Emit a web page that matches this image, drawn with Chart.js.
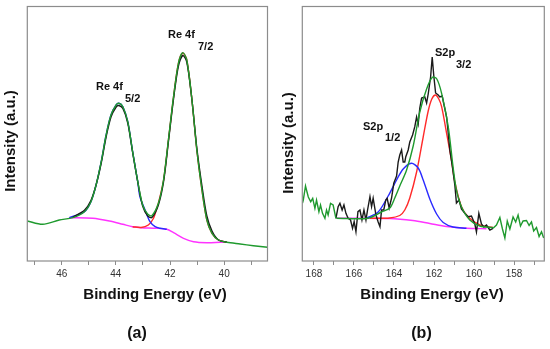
<!DOCTYPE html>
<html>
<head>
<meta charset="utf-8">
<script src="https://cdn.jsdelivr.net/npm/chart.js@4.4.1/dist/chart.umd.min.js"></script>
<style>
html,body{margin:0;padding:0;background:#fff;}
#wrap{position:relative;width:550px;height:349px;overflow:hidden;}
canvas{position:absolute;top:0;}
</style>
</head>
<body>
<div id="wrap">
<canvas id="ca" width="275" height="349" style="left:0px"></canvas>
<canvas id="cb" width="275" height="349" style="left:275px"></canvas>
</div>
<script>
// ---------- Panel (a): Re 4f ----------
const aTicks = [47, 46, 45, 44, 43, 42, 41, 40, 39];
const aLabels = [46, 44, 42, 40];
const aEnvelope = [[47.27,40],[46.70,36.7],[46.09,41],[45.59,43.3],[45.16,49.3],[44.92,59.3],[44.73,76],[44.54,99.3],[44.36,126],[44.18,146],[43.99,156],[43.89,157.7],[43.74,154.3],[43.56,139.3],[43.38,109.3],[43.19,79.3],[43.01,56],[42.82,46.7],[42.67,45.3],[42.43,57.7],[42.24,81],[42.06,121],[41.87,164.3],[41.69,197.7],[41.53,208.3],[41.38,201],[41.19,161],[41.01,111],[40.82,71],[40.64,41],[40.45,27.7],[40.21,21],[39.90,18.7],[39.41,17],[38.92,15.3],[38.40,13.7]];
const aData = [[45.59,43.8],[45.16,50.8],[44.92,60.5],[44.73,76],[44.54,98],[44.36,124],[44.18,144],[43.99,154],[43.89,155.5],[43.74,152.5],[43.56,138],[43.38,108.5],[43.19,79],[43.01,55],[42.82,45],[42.67,43.5],[42.43,56],[42.24,79],[42.06,119],[41.87,162],[41.69,195],[41.53,205.5],[41.38,199],[41.19,161],[41.01,113],[40.82,75],[40.64,45],[40.45,30],[40.21,21],[39.90,18.7]];
const aPeak72 = [[43.38,34.3],[43.07,33.5],[42.80,36],[42.61,42.7],[42.49,52.7],[42.43,57.7],[42.24,80.5],[42.06,120.5],[41.87,164],[41.69,197.5],[41.53,208],[41.38,201],[41.19,161],[41.01,111],[40.82,71],[40.64,41],[40.45,27.7],[40.21,21],[39.90,18.7]];
const aPeak52 = [[45.72,43.3],[45.16,49.3],[44.92,59.3],[44.73,76],[44.54,99.3],[44.36,126],[44.18,146],[43.99,156],[43.89,157.7],[43.74,154.3],[43.56,139.3],[43.38,109.3],[43.19,79],[43.11,64.3],[42.92,51],[42.74,39.3],[42.55,34.3],[42.37,32.7],[42.12,31.7]];
const aBackground = [[45.72,43.3],[44.85,42.7],[44.24,40],[43.74,36.7],[43.38,34.3],[43.07,33.3],[42.51,32.7],[42.12,31.7],[41.87,28.3],[41.50,22.7],[41.13,19.3],[40.64,18.3],[40.15,18.7],[40.03,18.7]];

// ---------- Panel (b): S 2p ----------
const bTicks = [168, 167, 166, 165, 164, 163, 162, 161, 160, 159, 158, 157];
const bLabels = [168, 166, 164, 162, 160, 158];
const bRawLeft = [[168.57,58],[168.53,61],[168.42,75],[168.37,71],[168.28,64],[168.16,59.3],[168.06,62.7],[167.95,52.7],[167.87,61],[167.75,49.3],[167.67,56],[167.57,47.7],[167.45,42.7],[167.37,51],[167.29,46],[167.17,57.7],[167.04,56],[166.90,42.7]];
const bRawRight = [[159.05,32.7],[158.88,36],[158.71,43.5],[158.58,32],[158.46,23],[158.34,40],[158.21,32],[158.05,44],[157.92,39],[157.80,46],[157.68,35],[157.55,40],[157.38,40.5],[157.25,35.5],[157.13,39],[157.02,30],[156.88,33.5],[156.75,24.5],[156.63,29.3],[156.52,23]];
const bData = [[166.90,42.7],[166.79,54.3],[166.70,57.7],[166.59,51],[166.50,56],[166.40,47.7],[166.29,42.7],[166.17,41],[166.07,32.7],[165.99,39.3],[165.90,29.3],[165.80,49.3],[165.70,51],[165.60,41],[165.50,51],[165.40,41],[165.32,51],[165.20,64.3],[165.12,54.3],[165.04,62.7],[164.90,46],[164.79,39],[164.70,34.3],[164.62,51],[164.51,51],[164.41,61],[164.34,62.7],[164.24,53],[164.12,63],[164.01,77.7],[163.87,85],[163.79,99],[163.71,106],[163.62,111],[163.54,99],[163.46,99],[163.41,104.3],[163.29,111],[163.21,119],[163.07,126],[162.96,134.3],[162.87,144],[162.79,137],[162.71,153],[162.62,163],[162.46,164],[162.37,158],[162.29,167],[162.17,184],[162.09,204],[162.01,185],[161.92,168],[161.79,166],[161.71,164],[161.59,165],[161.51,157],[161.37,144],[161.29,128],[161.21,111],[161.08,94],[160.96,76],[160.88,58],[160.75,61],[160.63,52],[160.46,47.7],[160.30,44.3],[160.13,45],[159.96,37],[159.88,29],[159.76,47.7],[159.63,37],[159.51,34],[159.38,36],[159.21,31],[159.05,32.7]];
const bEnvelope = [[166.87,42.7],[165.29,42.7],[164.62,49],[164.21,53],[163.96,63],[163.71,75],[163.37,91],[163.04,115],[162.71,149],[162.37,172],[162.08,183.7],[161.86,182],[161.62,167.7],[161.29,134.3],[161.05,94.3],[160.88,71],[160.63,54.3],[160.21,41],[159.71,35],[159.05,33.3]];
const bPeak32 = [[165.20,42.7],[164.21,43],[163.71,45.5],[163.46,51],[163.21,63],[162.87,89],[162.54,124],[162.29,150],[162.11,162],[161.93,166],[161.76,162],[161.62,154.3],[161.37,127.7],[161.13,101],[160.96,79],[160.63,54.3],[160.30,44.3],[159.71,36],[159.05,33.5]];
const bPeak12 = [[165.37,42.7],[164.79,49],[164.29,65],[163.87,81],[163.54,92],[163.13,97.7],[162.79,93],[162.54,81],[162.21,62],[161.87,47],[161.54,38.5],[161.05,34],[160.38,32.7]];
const bBackground = [[166.85,42.7],[164.21,42.5],[163.06,40.5],[162.21,37.5],[161.37,34.5],[160.38,32.7],[159.38,32.3]];

const GREEN = '#1f9a2e', BLACK = '#1a1a1a', RED = '#ff2a2a', BLUE = '#2a2aff', MAGENTA = '#ff33ff';
const FONT = '"Liberation Sans", Arial, Helvetica, sans-serif';

function pts(arr){ return arr.map(p => ({x:p[0], y:p[1]})); }
function ds(arr, color, order, tension){
  return {data: pts(arr), borderColor: color, borderWidth: 1.4, pointRadius: 0, fill: false, tension: tension, order: order};
}

function textPlugin(items){
  return {
    id: 'texts',
    afterDraw(chart){
      const ctx = chart.ctx, a = chart.chartArea;
      ctx.save();
      ctx.strokeStyle = '#8c8c8c';
      ctx.lineWidth = 1.2;
      ctx.strokeRect(a.left, a.top, a.right - a.left, a.bottom - a.top);
      ctx.fillStyle = '#111';
      for (const t of items){
        ctx.save();
        ctx.font = 'bold ' + t.size + 'px ' + FONT;
        ctx.textAlign = t.align || 'center';
        ctx.textBaseline = 'middle';
        ctx.translate(t.x, t.y);
        if (t.rot) ctx.rotate(t.rot);
        ctx.fillText(t.text, 0, 0);
        ctx.restore();
      }
      ctx.restore();
    }
  };
}

function makeChart(id, datasets, xmin, xmax, ticks, labels, pad, texts){
  return new Chart(document.getElementById(id), {
    type: 'line',
    data: {datasets: datasets},
    options: {
      responsive: false, animation: false, devicePixelRatio: 1,
      layout: {padding: pad},
      plugins: {legend: {display: false}, tooltip: {enabled: false}},
      scales: {
        x: {
          type: 'linear', reverse: true, min: xmin, max: xmax,
          afterBuildTicks: s => { s.ticks = ticks.map(v => ({value: v})); },
          afterFit: s => { s.height = 20; },
          ticks: {autoSkip: false, maxRotation: 0, padding: 3, color: '#333',
                  font: {family: FONT, size: 10},
                  callback: v => labels.includes(v) ? String(v) : ''},
          grid: {drawOnChartArea: false, drawTicks: true, tickLength: 4, color: '#8c8c8c', lineWidth: 1},
          border: {display: false}
        },
        y: {type: 'linear', display: false, min: 0, max: 254.5}
      }
    },
    plugins: [textPlugin(texts)]
  });
}

makeChart('ca', [
  ds(aEnvelope, GREEN, 1, 0.3),
  ds(aData, BLACK, 2, 0.3),
  ds(aPeak52, BLUE, 3, 0.3),
  ds(aPeak72, RED, 4, 0.3),
  ds(aBackground, MAGENTA, 5, 0.3)
], 38.4, 47.27, aTicks, aLabels, {left: 27.3, right: 7.5, top: 6.5, bottom: 68}, [
  {text: 'Intensity (a.u.)', x: 11, y: 141, size: 15, rot: -Math.PI/2},
  {text: 'Binding Energy (eV)', x: 155, y: 295, size: 15},
  {text: '(a)', x: 137, y: 334, size: 16},
  {text: 'Re 4f', x: 96, y: 87, size: 11, align: 'left'},
  {text: '5/2', x: 125, y: 99, size: 11, align: 'left'},
  {text: 'Re 4f', x: 168, y: 35, size: 11, align: 'left'},
  {text: '7/2', x: 198, y: 47, size: 11, align: 'left'}
]);

makeChart('cb', [
  ds(bRawLeft, GREEN, 1, 0),
  ds(bRawRight, GREEN, 1, 0),
  ds(bEnvelope, GREEN, 2, 0.3),
  ds(bData, BLACK, 3, 0),
  ds(bPeak12, BLUE, 4, 0.3),
  ds(bPeak32, RED, 5, 0.3),
  ds(bBackground, MAGENTA, 6, 0.3)
], 156.49, 168.58, bTicks, bLabels, {left: 27.3, right: 5.7, top: 6.5, bottom: 68}, [
  {text: 'Intensity (a.u.)', x: 14, y: 143, size: 15, rot: -Math.PI/2},
  {text: 'Binding Energy (eV)', x: 157, y: 295, size: 15},
  {text: '(b)', x: 146.5, y: 334, size: 16},
  {text: 'S2p', x: 160, y: 52.5, size: 11, align: 'left'},
  {text: '3/2', x: 181, y: 65, size: 11, align: 'left'},
  {text: 'S2p', x: 88, y: 127, size: 11, align: 'left'},
  {text: '1/2', x: 110, y: 138, size: 11, align: 'left'}
]);
</script>
</body>
</html>
